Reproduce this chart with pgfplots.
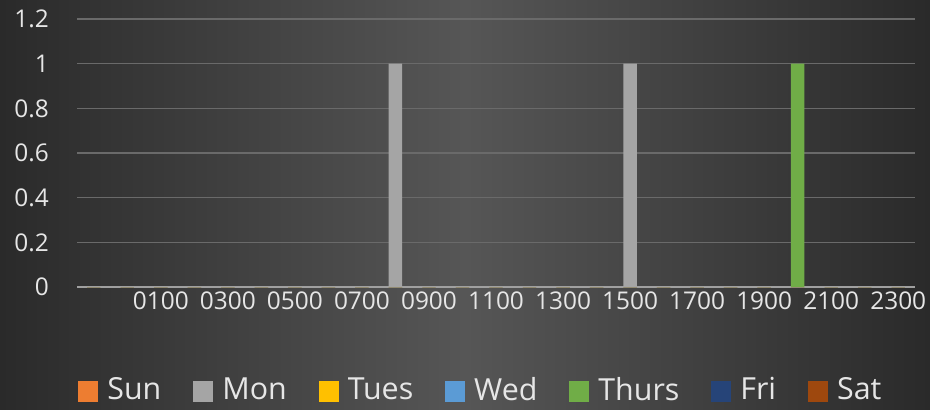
\documentclass[border=0pt]{standalone}
\usepackage{pgfplots}
\pgfplotsset{compat=1.18}
\usepackage{pgfplotstable}
\usepackage{fontspec}
\setmainfont{Open Sans}
\definecolor{bgedge}{HTML}{2A2A2A}
\definecolor{bgmid}{HTML}{565656}
\definecolor{gridgray}{HTML}{6A6A6A}
\definecolor{axisgray}{HTML}{A0A0A0}
\definecolor{txt}{HTML}{E6E6E6}
\definecolor{cSun}{HTML}{ED7D31}
\definecolor{cMon}{HTML}{A5A5A5}
\definecolor{cTues}{HTML}{FFC000}
\definecolor{cWed}{HTML}{5B9BD5}
\definecolor{cThurs}{HTML}{70AD47}
\definecolor{cFri}{HTML}{264478}
\definecolor{cSat}{HTML}{9E480E}
\pgfplotstableread{
idx Sun Mon Tues Wed Thurs Fri Sat
0 0 0 0 0 0 0 0
1 0 0 0 0 0 0 0
2 0 0 0 0 0 0 0
3 0 0 0 0 0 0 0
4 0 0 0 0 0 0 0
5 0 0 0 0 0 0 0
6 0 0 0 0 0 0 0
7 0 0 0 0 0 0 0
8 0 0 0 0 0 0 0
9 0 1 0 0 0 0 0
10 0 0 0 0 0 0 0
11 0 0 0 0 0 0 0
12 0 0 0 0 0 0 0
13 0 0 0 0 0 0 0
14 0 0 0 0 0 0 0
15 0 0 0 0 0 0 0
16 0 1 0 0 0 0 0
17 0 0 0 0 0 0 0
18 0 0 0 0 0 0 0
19 0 0 0 0 0 0 0
20 0 0 0 0 0 0 0
21 0 0 0 0 1 0 0
22 0 0 0 0 0 0 0
23 0 0 0 0 0 0 0
24 0 0 0 0 0 0 0
}\data
\begin{document}
\begin{tikzpicture}[x=1bp,y=1bp]
\useasboundingbox (0,0) rectangle (930,409);
\shade[left color=bgedge,right color=bgedge,middle color=bgmid] (0,0) rectangle (930,409);
\begin{axis}[
  at={(77bp,122bp)}, anchor=south west,
  scale only axis, width=838bp, height=268bp,
  xmin=-0.5, xmax=24.5, ymin=0, ymax=1.2,
  ytick={0,0.2,0.4,0.6,0.8,1,1.2},
  xtick={2,4,...,24},
  xticklabels={0100,0300,0500,0700,0900,1100,1300,1500,1700,1900,2100,2300},
  /pgf/number format/assume math mode=true,
  tick label style={font=\fontsize{24.5}{26}\selectfont, text=txt},
  xticklabel style={inner sep=0pt, anchor=north, yshift=-5bp},
  yticklabel style={inner sep=0pt, anchor=east, xshift=-28bp},
  major tick length=0pt,
  axis lines*=left,
  y axis line style={draw=none},
  x axis line style={draw=axisgray, line width=1.5bp},
  ymajorgrids, grid style={draw=gridgray, line width=1.2bp},
  ybar, bar width=13.4bp,
  legend style={at={(0.482,-0.3825)}, anchor=center, draw=none, fill=none,
    text=txt, font=\fontsize{30.5}{32}\selectfont, legend columns=-1,
    /tikz/every odd column/.append style={column sep=7bp},
    /tikz/every even column/.append style={column sep=30bp}},
  legend image code/.code={\fill[#1] (0bp,-12bp) rectangle (20bp,9bp);},
]
\addplot[fill=cSun, draw=none, bar shift=0pt] table[x=idx,y=Sun]{\data};
\addplot[fill=cMon, draw=none, bar shift=0pt] table[x=idx,y=Mon]{\data};
\addplot[fill=cTues, draw=none, bar shift=0pt] table[x=idx,y=Tues]{\data};
\addplot[fill=cWed, draw=none, bar shift=0pt] table[x=idx,y=Wed]{\data};
\addplot[fill=cThurs, draw=none, bar shift=0pt] table[x=idx,y=Thurs]{\data};
\addplot[fill=cFri, draw=none, bar shift=0pt] table[x=idx,y=Fri]{\data};
\addplot[fill=cSat, draw=none, bar shift=0pt] table[x=idx,y=Sat]{\data};
\legend{Sun,Mon,Tues,Wed,Thurs,Fri,Sat}
\end{axis}
\end{tikzpicture}
\end{document}
